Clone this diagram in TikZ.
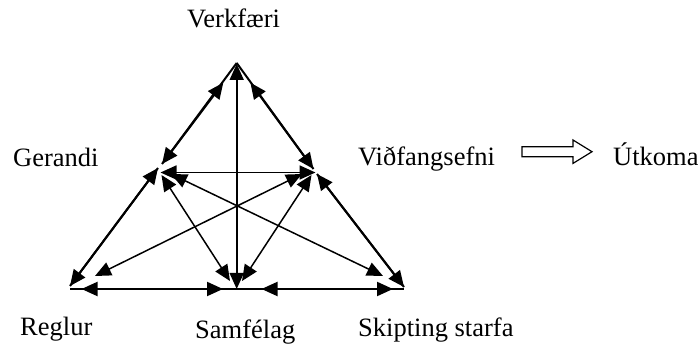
\documentclass[tikz,border=0pt]{standalone}
\usepackage{fontspec}
\setmainfont{Liberation Serif}
\usetikzlibrary{arrows.meta}
\begin{document}
\begin{tikzpicture}[x=1pt,y=-1pt,
  lbl/.style={anchor=base west, inner sep=0pt, font=\fontsize{26.5}{31}\selectfont},
  edgeline/.style={line width=2pt},
  tipA/.tip={Triangle[length=16pt,width=14pt]},
  dbl/.style={line width=2pt, tipA-tipA},
  dbln/.style={line width=1.5pt, tipA-tipA},
  hollow/.style={line width=1.2pt, line join=miter}]
\useasboundingbox (0,0) rectangle (698,344);

% vertices
\coordinate (T) at (236.7,63);
\coordinate (L) at (160,172);
\coordinate (R) at (316,172);
\coordinate (BL) at (70,289);
\coordinate (BM) at (236,289);
\coordinate (BR) at (404,289);

% edge lines
\coordinate (Lu) at (162,164);
\coordinate (Ld) at (158,168);
\coordinate (Ru) at (313.5,169);
\coordinate (Rd) at (317,174);
\coordinate (BLe) at (70,286);
\coordinate (BRe) at (404,287);
\draw[edgeline] (T) -- (Lu);
\draw[edgeline] (Ld) -- (BLe);
\draw[edgeline] (T) -- (Ru);
\draw[edgeline] (Rd) -- (BRe);
\draw[edgeline] (BL) -- (BR);

% arrows along the edges
\coordinate (a1) at (223.3,82.7);
\coordinate (a2) at (250.4,82.7);
\draw[dbl] (a1) -- (Lu);
\draw[dbl] (a2) -- (Ru);
\draw[dbl] (Ld) -- (BLe);
\draw[dbl] (Rd) -- (BRe);
\coordinate (b1) at (81.5,289);
\coordinate (b2) at (223,289);
\coordinate (b3) at (261.5,289);
\coordinate (b4) at (393,289);
\draw[dbl] (b1) -- (b2);
\draw[dbl] (b3) -- (b4);

% vertical and horizontal
\coordinate (Tv) at (236.7,64);
\coordinate (Bv) at (236.7,289);
\draw[dbln, line width=1.7pt] (Tv) -- (Bv);
\coordinate (Lh) at (160.5,172.5);
\coordinate (Rh) at (315.5,172.5);
\draw[dbln, line width=1.7pt] (Lh) -- (Rh);

% diagonals
\coordinate (L1) at (161.5,175);
\coordinate (L2) at (171,174);
\coordinate (R1) at (311.5,175);
\coordinate (R2) at (302,174);
\coordinate (M1) at (230,281);
\coordinate (M2) at (242,281);
\coordinate (BL2) at (95,276);
\coordinate (BR2) at (383,276);
\draw[dbln] (L1) -- (M1);
\draw[dbln] (L2) -- (BR2);
\draw[dbln] (R1) -- (M2);
\draw[dbln] (R2) -- (BL2);

% labels
\node[lbl] (verk) at (187,28) {Verkfæri};
\node[lbl] (ger) at (13,167) {Gerandi};
\node[lbl] (vid) at (358,166) {Viðfangsefni};
\node[lbl] (utk) at (613,166) {Útkoma};
\node[lbl] (reg) at (20,335) {Reglur};
\node[lbl] (sam) at (195,338) {Samfélag};
\node[lbl] (skip) at (358,336) {Skipting starfa};

% hollow arrow
\coordinate (ha) at (522,151.7);
\draw[hollow] (ha) ++(0,-5) -- ++(51,0) -- ++(0,-6.7) -- ++(19,11.7) -- ++(-19,11.7) -- ++(0,-6.7) -- ++(-51,0) -- cycle;
\end{tikzpicture}
\end{document}
